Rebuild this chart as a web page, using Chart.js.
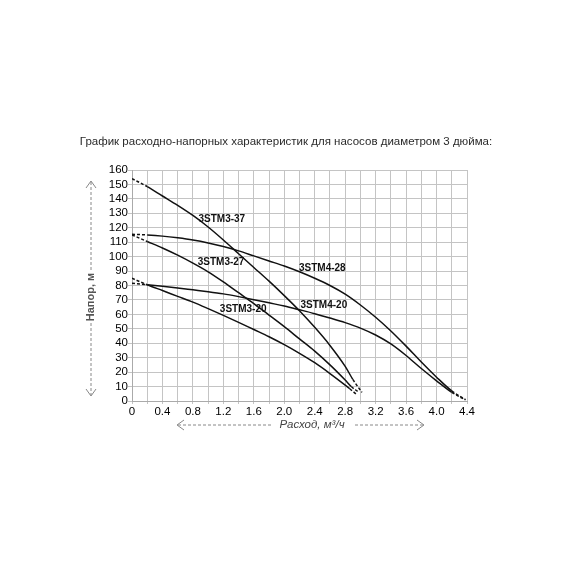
<!DOCTYPE html>
<html>
<head>
<meta charset="UTF-8" />
<script src="https://cdn.jsdelivr.net/npm/chart.js"></script>
<style>
  html, body { margin: 0; padding: 0; background: #fff; }
  #wrap { width: 570px; height: 570px; }
</style>
</head>
<body>
<div id="wrap"><canvas id="pumpChart" width="570" height="570"></canvas></div>
<script>
// Q (m3/h) and H (m)
const flow37 = [0, 0.2, 0.4, 0.6, 0.8, 1.0, 1.2, 1.4, 1.6, 1.8, 2.0, 2.2, 2.4, 2.6, 2.8, 2.9, 3.02];
const head37 = [154, 148.5, 142, 135.5, 128.5, 120.5, 111.5, 102, 92.5, 83, 73, 62.5, 51, 38.5, 24, 15, 6];

const flow27 = [0, 0.2, 0.4, 0.6, 0.8, 1.0, 1.2, 1.4, 1.6, 1.8, 2.0, 2.2, 2.4, 2.6, 2.8, 2.88, 2.98];
const head27 = [115, 110.5, 106, 101, 95.5, 89.5, 82.5, 75, 67.5, 59.5, 51.5, 43, 34.5, 25, 14.5, 10, 6];

const flow20 = [0, 0.2, 0.4, 0.6, 0.8, 1.0, 1.2, 1.4, 1.6, 1.8, 2.0, 2.2, 2.4, 2.6, 2.8, 2.86, 2.95];
const head20 = [85, 80.5, 76.5, 72.5, 68.5, 64, 59.3, 54.5, 49.5, 44.5, 39, 33, 26.5, 19, 11, 8.5, 4.5];

const flow428 = [0, 0.2, 0.4, 0.6, 0.8, 1.0, 1.2, 1.4, 1.6, 1.8, 2.0, 2.2, 2.4, 2.6, 2.8, 3.0, 3.2, 3.4, 3.6, 3.8, 4.0, 4.2, 4.38];
const head428 = [115.5, 115, 114.2, 113, 111.5, 109.5, 107, 104, 100.5, 97, 93.5, 89.5, 85, 80, 74, 66.5, 58, 48.5, 38, 27, 16.5, 7, 1];

const flow420 = [0, 0.2, 0.4, 0.6, 0.8, 1.0, 1.2, 1.4, 1.6, 1.8, 2.0, 2.2, 2.4, 2.6, 2.8, 3.0, 3.2, 3.4, 3.6, 3.8, 4.0, 4.2, 4.38];
const head420 = [81.5, 80.5, 79.5, 78.3, 77, 75.7, 74.2, 72.3, 70.2, 68, 65.8, 63.2, 60.5, 57.5, 54.3, 50.5, 45.7, 39.5, 31.5, 22.5, 14, 6, 0.8];

const pumpNames = ['3STM3-37', '3STM3-27', '3STM3-20', '3STM4-28', '3STM4-20'];
// where each name sits, in chart units
const nameFlow = [1.18, 1.17, 1.46, 2.5, 2.52];
const nameHead = [126, 96, 63.5, 92, 66.5];

const chartTitle = 'График расходно-напорных характеристик для насосов диаметром 3 дюйма:';
const yTitle = 'Напор, м';
const xTitle = 'Расход, м³/ч';

const curves = [[flow37, head37], [flow27, head27], [flow20, head20], [flow428, head428], [flow420, head420]];

const makeSet = (flow, head, name) => ({
  label: name,
  data: flow.map((f, i) => ({ x: f, y: head[i] })),
  borderColor: '#111',
  borderWidth: 1.5,
  pointRadius: 0,
  fill: false,
  cubicInterpolationMode: 'monotone',
  segment: {
    // first and last pieces are dashed like in the catalogue
    borderDash: ctx => (ctx.p0DataIndex === 0 || ctx.p1DataIndex === flow.length - 1) ? [3, 2] : undefined
  }
});

const extras = {
  id: 'extras',
  afterDraw(chart) {
    const { ctx, chartArea: a, scales } = chart;
    ctx.save();

    // title
    ctx.fillStyle = '#2a2a2a';
    ctx.font = '11.5px "Liberation Sans", Arial, sans-serif';
    ctx.textAlign = 'center';
    ctx.textBaseline = 'middle';
    ctx.fillText(chartTitle, 286, a.top - 28);

    // pump names
    ctx.fillStyle = '#111';
    ctx.font = 'bold 10px "Liberation Sans", Arial, sans-serif';
    pumpNames.forEach((n, i) => {
      ctx.fillText(n, scales.x.getPixelForValue(nameFlow[i]), scales.y.getPixelForValue(nameHead[i]));
    });

    // y title with dashed arrows
    const yx = a.left - 41;
    const ymid = 297;
    ctx.strokeStyle = '#888';
    ctx.lineWidth = 1;
    ctx.setLineDash([3, 2]);
    ctx.beginPath();
    ctx.moveTo(yx, a.top + 12); ctx.lineTo(yx, ymid - 26);
    ctx.moveTo(yx, ymid + 26); ctx.lineTo(yx, a.bottom - 6);
    ctx.stroke();
    ctx.setLineDash([]);
    ctx.beginPath();
    ctx.moveTo(yx - 5, a.top + 18); ctx.lineTo(yx, a.top + 11); ctx.lineTo(yx + 5, a.top + 18);
    ctx.moveTo(yx - 5, a.bottom - 12); ctx.lineTo(yx, a.bottom - 5); ctx.lineTo(yx + 5, a.bottom - 12);
    ctx.stroke();
    ctx.save();
    ctx.translate(yx, ymid);
    ctx.rotate(-Math.PI / 2);
    ctx.fillStyle = '#555';
    ctx.font = 'bold 11px "Liberation Sans", Arial, sans-serif';
    ctx.fillText(yTitle, 0, 0);
    ctx.restore();

    // x title with dashed arrows
    const xy = a.bottom + 24;
    const xmid = 312;
    ctx.setLineDash([3, 2]);
    ctx.beginPath();
    ctx.moveTo(178, xy); ctx.lineTo(xmid - 40, xy);
    ctx.moveTo(xmid + 43, xy); ctx.lineTo(423, xy);
    ctx.stroke();
    ctx.setLineDash([]);
    ctx.beginPath();
    ctx.moveTo(184, xy - 5); ctx.lineTo(177, xy); ctx.lineTo(184, xy + 5);
    ctx.moveTo(417, xy - 5); ctx.lineTo(424, xy); ctx.lineTo(417, xy + 5);
    ctx.stroke();
    ctx.fillStyle = '#444';
    ctx.font = 'italic 11.5px "Liberation Sans", Arial, sans-serif';
    ctx.fillText(xTitle, xmid, xy);

    ctx.restore();
  }
};

new Chart(document.getElementById('pumpChart').getContext('2d'), {
  type: 'line',
  data: { datasets: curves.map((c, i) => makeSet(c[0], c[1], pumpNames[i])) },
  options: {
    responsive: false,
    animation: false,
    devicePixelRatio: 1,
    layout: { padding: { top: 170, right: 103, left: 0, bottom: 0 } },
    plugins: { legend: { display: false }, tooltip: { enabled: false }, title: { display: false } },
    scales: {
      x: {
        type: 'linear',
        min: 0,
        max: 4.4,
        afterFit: s => { s.height = 169; },
        grid: { color: '#c4c4c4', lineWidth: 1, tickLength: 3 },
        border: { color: '#aaa' },
        ticks: {
          stepSize: 0.2,
          autoSkip: false,
          maxRotation: 0,
          padding: 1,
          color: '#000',
          font: { family: '"Liberation Sans", Arial, sans-serif', size: 11.5 },
          callback: (v, i) => i % 2 ? '' : (v === 0 ? '0' : v.toFixed(1))
        }
      },
      y: {
        min: 0,
        max: 160,
        afterFit: s => { s.width = 132; },
        grid: { color: '#c4c4c4', lineWidth: 1, tickLength: 4 },
        border: { color: '#aaa' },
        ticks: {
          stepSize: 10,
          autoSkip: false,
          padding: 0,
          color: '#000',
          font: { family: '"Liberation Sans", Arial, sans-serif', size: 11.5 }
        }
      }
    }
  },
  plugins: [extras]
});
</script>
</body>
</html>
